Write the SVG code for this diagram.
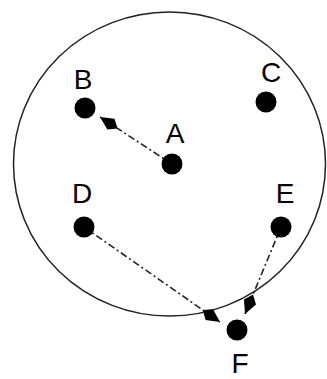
<svg xmlns="http://www.w3.org/2000/svg" width="327" height="379" viewBox="0 0 327 379">
<style>
.lbl{font-family:"Liberation Sans",Arial,sans-serif;font-size:28px;fill:#000;text-anchor:middle}
.dot{fill:#000}
.edge{stroke:#222;stroke-width:1.6;fill:none;stroke-dasharray:7,3,2,3}
</style>
<defs>
<marker id="ah" markerUnits="userSpaceOnUse" markerWidth="26" markerHeight="16" refX="0" refY="0" viewBox="-24 -8 26 16" orient="auto">
<path d="M0,0 L-13,-6.5 L-21,0 L-13,6.5 Z" fill="#000"/>
</marker>
</defs>
<ellipse cx="169.5" cy="164" rx="156" ry="152" fill="none" stroke="#222" stroke-width="1.5"/>
<g id="connectors">
<line class="edge" x1="172" y1="164" x2="100" y2="117" marker-end="url(#ah)"/>
<line class="edge" x1="84" y1="227" x2="220" y2="322" marker-end="url(#ah)"/>
<line class="edge" x1="281" y1="227" x2="245" y2="314" marker-end="url(#ah)"/>
</g>
<g id="A"><circle class="dot" cx="172" cy="164" r="10.5"/><text class="lbl" x="175" y="143">A</text></g>
<g id="B"><circle class="dot" cx="85" cy="108" r="10.5"/><text class="lbl" x="83" y="89">B</text></g>
<g id="C"><circle class="dot" cx="266" cy="102" r="10.5"/><text class="lbl" x="271" y="82">C</text></g>
<g id="D"><circle class="dot" cx="84" cy="227" r="10.5"/><text class="lbl" x="82" y="203">D</text></g>
<g id="E"><circle class="dot" cx="281" cy="227" r="10.5"/><text class="lbl" x="285" y="203">E</text></g>
<g id="F"><circle class="dot" cx="237" cy="330" r="10.5"/><text class="lbl" x="240" y="373">F</text></g>
</svg>
